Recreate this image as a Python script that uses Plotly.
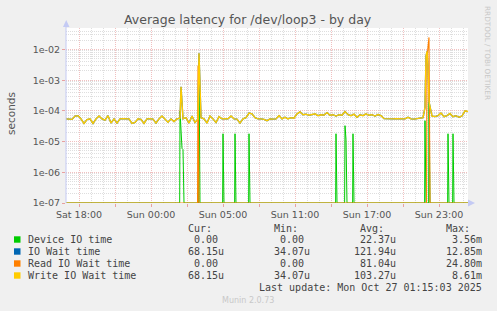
import plotly.graph_objects as go

# ---------------- data (hours since Sat 00:00 UTC) ----------------
T_START = 14.917
T_END = 48.417
STEP = 0.25

write_base = [
    5.5e-5, 5.5e-5, 5.3e-5, 6.8e-5, 7.0e-5, 5.5e-5, 3.9e-5, 5.2e-5, 5.5e-5, 3.9e-5,
    5.5e-5, 6.8e-5, 5.5e-5, 5.0e-5, 7.0e-5, 4.0e-5, 5.5e-5, 4.0e-5, 5.5e-5, 5.6e-5,
    5.4e-5, 5.5e-5, 3.9e-5, 4.2e-5, 5.5e-5, 5.3e-5, 3.9e-5, 5.5e-5, 5.6e-5, 5.4e-5,
    4.0e-5, 5.5e-5, 6.8e-5, 5.5e-5, 4.3e-5, 5.5e-5, 4.5e-5, 5.5e-5, 5.8e-5, 5.5e-5,
    6.0e-5, 4.0e-5, 6.8e-5, 4.2e-5, 5.5e-5, 6.0e-5, 5.5e-5, 4.0e-5, 6.8e-5, 5.5e-5,
    4.2e-5, 6.5e-5, 5.5e-5, 5.6e-5, 5.5e-5, 6.8e-5, 5.5e-5, 5.4e-5, 4.0e-5, 5.5e-5,
    6.0e-5, 8.5e-5, 8.0e-5, 6.0e-5, 5.5e-5, 5.5e-5, 5.3e-5, 4.8e-5, 5.5e-5, 5.4e-5,
    5.5e-5, 7.0e-5, 5.5e-5, 6.2e-5, 5.5e-5, 6.0e-5, 5.8e-5, 8.0e-5, 9.3e-5, 7.5e-5,
    7.8e-5, 7.2e-5, 7.5e-5, 8.0e-5, 7.0e-5, 7.5e-5, 7.3e-5, 8.8e-5, 7.2e-5, 7.5e-5,
    6.8e-5, 7.5e-5, 7.2e-5, 9.5e-5, 7.5e-5, 7.0e-5, 7.8e-5, 6.2e-5, 7.5e-5, 7.0e-5,
    8.0e-5, 7.2e-5, 7.5e-5, 6.8e-5, 7.6e-5, 7.0e-5, 5.6e-5, 5.5e-5, 5.4e-5, 5.5e-5,
    5.6e-5, 5.5e-5, 5.3e-5, 5.5e-5, 6.2e-5, 5.5e-5, 5.4e-5, 5.6e-5, 5.5e-5, 6.0e-5,
    6.0e-3, 2.0e-4, 6.8e-5, 6.5e-5, 7.0e-5, 8.5e-5, 6.5e-5, 7.0e-5, 8.2e-5, 6.5e-5,
    7.0e-5, 6.2e-5, 6.8e-5, 1.0e-4, 9.5e-5,
]
write_spike_t = [24.5, 26.0, 44.833, 45.0, 45.083]
write_spike_v = [6.1e-4, 7.5e-3, 1.3e-4, 8.61e-3, 3.0e-3]

iowait_spike_t = [24.5, 26.0, 44.833, 45.0, 45.083]
iowait_spike_v = [6.1e-4, 7.5e-3, 1.3e-4, 8.61e-3, 3.0e-3]

read_t = [14.917, 25.88, 25.917, 26.0, 44.96, 45.0, 45.083, 45.167, 45.25, 48.417]
read_v = [0, 0, 3.0e-3, 0, 0, 5.0e-3, 1.2e-2, 2.48e-2, 0, 0]

device_t = [14.917,
            24.39, 24.417, 24.5, 24.583, 24.667, 24.75,
            25.97, 26.0, 26.083,
            27.97, 28.0, 28.083,
            28.97, 29.0, 29.083,
            30.137, 30.167, 30.25,
            37.387, 37.417, 37.5,
            38.137, 38.167, 38.25, 38.333,
            38.803, 38.833, 38.917,
            44.803, 44.833, 44.917, 45.137, 45.167, 45.25,
            46.72, 46.75, 46.833,
            47.137, 47.167, 47.25,
            48.417]
device_v = [0,
            0, 1.0e-4, 2.0e-5, 6.0e-6, 5.5e-6, 0,
            0, 3.56e-3, 0,
            0, 1.8e-5, 0,
            0, 1.8e-5, 0,
            0, 1.8e-5, 0,
            0, 1.8e-5, 0,
            0, 3.3e-5, 1.2e-5, 0,
            0, 1.8e-5, 0,
            0, 4.8e-5, 0, 0, 2.2e-4, 0,
            0, 1.8e-5, 0,
            0, 1.8e-5, 0,
            0]

series_names = ["Device IO time", "IO Wait time", "Read IO Wait time", "Write IO Wait time"]
series_colors = ["#00CC00", "#0066B3", "#FF8000", "#FFCC00"]
cur_vals = ["0.00", "68.15u", "0.00", "68.15u"]
min_vals = ["0.00", "34.07u", "0.00", "34.07u"]
avg_vals = ["22.37u", "121.94u", "81.04u", "103.27u"]
max_vals = ["3.56m", "12.85m", "24.80m", "8.61m"]

tick_hours = [16, 19, 22, 25, 28, 31, 34, 37, 40, 43, 46]
tick_labels = ["Sat 18:00", "", "Sun 00:00", "", "Sun 05:00", "", "Sun 11:00", "",
               "Sun 17:00", "", "Sun 23:00"]
ytick_vals = [1e-7, 1e-6, 1e-5, 1e-4, 1e-3, 1e-2]
ytick_text = ["1e-07", "1e-06", "1e-05", "1e-04", "1e-03", "1e-02"]

TITLE = "Average latency for /dev/loop3 - by day"
LAST_UPDATE = "Last update: Mon Oct 27 01:15:03 2025"

# ---------------- build ----------------
FLOOR = 1e-7
base_t = [T_START + STEP * k for k in range(len(write_base))]


def merge(t1, v1, t2, v2):
    pts = sorted(zip(list(t1) + list(t2), list(v1) + list(v2)), key=lambda p: p[0])
    return [p[0] for p in pts], [max(p[1], FLOOR) for p in pts]


def clamp(vals):
    return [max(v, FLOOR) for v in vals]


wt, wv = merge(base_t, write_base, write_spike_t, write_spike_v)
it, iv = merge(base_t, write_base, iowait_spike_t, iowait_spike_v)

W, H = 497, 311
L, R, T, B = 66, 468, 28, 203


def px(x):
    return (x - L) / (R - L)


def py(y):
    return (B - y) / (B - T)


fig = go.Figure()
traces = [(device_t, clamp(device_v), 1.0), (it, iv, 1.3), (read_t, clamp(read_v), 1.1),
          (wt, wv, 1.4)]
for (tx, ty, lw), name, col in zip(traces, series_names, series_colors):
    fig.add_trace(go.Scatter(x=tx, y=ty, mode="lines", name=name,
                             line=dict(color=col, width=lw)))

grid_major = "rgba(230,140,140,0.55)"
grid_minor = "rgba(200,200,200,0.6)"
tick_major = "rgba(230,140,140,0.8)"
tick_font = dict(family="DejaVu Sans", size=9.5, color="#555555")

minor_x = [h for h in range(15, 49) if h % 3 != 1]
minor_y = [m * 10.0 ** e for e in range(-7, -1) for m in range(2, 10)]

fig.update_xaxes(range=[T_START, T_END], tickmode="array", tickvals=tick_hours,
                 ticktext=tick_labels, showgrid=True, gridcolor=grid_major,
                 griddash="1px,1px", gridwidth=1, zeroline=False, showline=False,
                 ticks="outside", ticklen=3, tickcolor=tick_major, tickfont=tick_font,
                 minor=dict(tickmode="array", tickvals=minor_x, showgrid=True,
                            gridcolor=grid_minor, griddash="1px,1px", ticks=""))
fig.update_yaxes(type="log", range=[-7, -1.3], tickmode="array", tickvals=ytick_vals,
                 ticktext=ytick_text, showgrid=True, gridcolor=grid_major,
                 griddash="1px,1px", zeroline=False, showline=False,
                 ticks="outside", ticklen=3, tickcolor=tick_major, tickfont=tick_font,
                 minor=dict(tickmode="array", tickvals=minor_y, showgrid=True,
                            gridcolor=grid_minor, griddash="1px,1px", ticks=""))

axis_col = "#C4CAF4"
shapes = [
    dict(type="line", xref="paper", yref="paper", x0=px(66), x1=px(66), y0=py(203), y1=py(24),
         line=dict(color=axis_col, width=1)),
    dict(type="path", xref="paper", yref="paper",
         path=f"M {px(63)} {py(27)} L {px(69.5)} {py(27)} L {px(66.2)} {py(20)} Z",
         fillcolor=axis_col, line=dict(width=0)),
    dict(type="path", xref="paper", yref="paper",
         path=f"M {px(468)} {py(199.5)} L {px(468)} {py(206.5)} L {px(475)} {py(203)} Z",
         fillcolor=axis_col, line=dict(width=0)),
]

mono = dict(family="DejaVu Sans Mono", size=10, color="#444444")
ann = []


def text(x, y, s, font, xanchor="left", **kw):
    ann.append(dict(x=px(x), y=py(y), xref="paper", yref="paper", text=s, showarrow=False,
                    xanchor=xanchor, yanchor="middle", font=font, **kw))


text(248, 19, TITLE, dict(family="DejaVu Sans", size=12.5, color="#555555"), "center")
text(11, 114, "seconds", dict(family="DejaVu Sans", size=10.5, color="#555555"), "center",
     textangle=-90)
text(488, 53, "RRDTOOL / TOBI OETIKER", dict(family="DejaVu Sans", size=7.3, color="#C8C8C8"),
     "center", textangle=90)

col_ends = [226, 312, 397.5, 483.5]
headers = ["Cur:", "Min:", "Avg:", "Max:"]
for ce, hd in zip(col_ends, headers):
    text(ce - 12, 228.5, hd, mono, "right")

rows_y = [239.5, 251.5, 263.5, 275.5]
for i, (name, col) in enumerate(zip(series_names, series_colors)):
    y = rows_y[i]
    shapes.append(dict(type="rect", xref="paper", yref="paper", x0=px(14), x1=px(20.5),
                       y0=py(y + 3.2), y1=py(y - 3.2), fillcolor=col, line=dict(width=0)))
    text(26, y, name, mono)
    for ce, vals in zip(col_ends, [cur_vals, min_vals, avg_vals, max_vals]):
        v = vals[i]
        xe = ce if v[-1].isalpha() else ce - 6.02
        text(xe, y, v, mono, "right")

text(483.5, 287.5, LAST_UPDATE, mono, "right")
text(248, 300, "Munin 2.0.73", dict(family="DejaVu Sans", size=8, color="#C8C8C8"), "center")

fig.update_layout(width=W, height=H, margin=dict(l=L, r=W - R, t=T, b=H - B),
                  paper_bgcolor="#F0F0F0", plot_bgcolor="#FFFFFF", showlegend=False,
                  shapes=shapes, annotations=ann)

fig.write_html("out.html")
